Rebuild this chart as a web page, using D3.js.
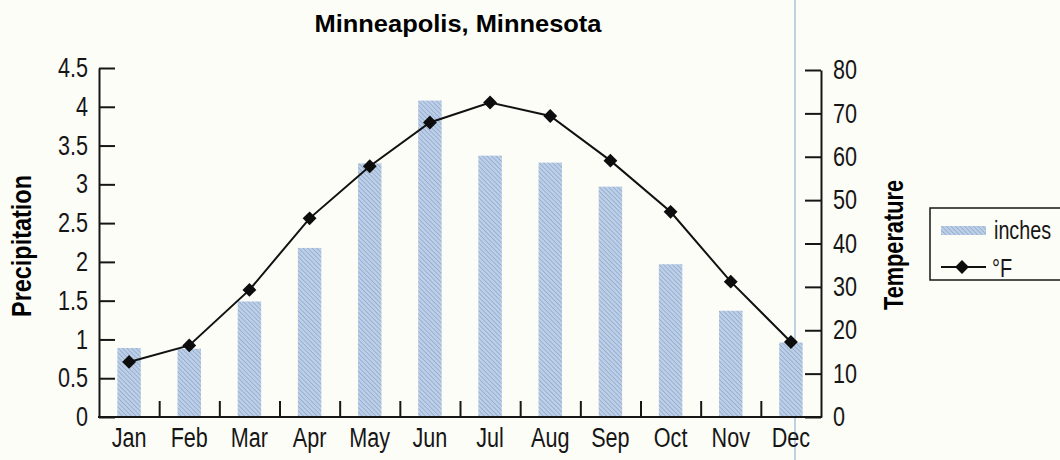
<!DOCTYPE html>
<html>
<head>
<meta charset="utf-8">
<script src="https://cdn.jsdelivr.net/npm/d3@7"></script>
<style>
  body { margin: 0; background: #fdfdf8; }
  svg { display: block; font-family: "Liberation Sans", Arial, sans-serif; }
  .axis path, .axis line { stroke: #161616; stroke-width: 2; }
  .axis text { fill: #161616; }
</style>
</head>
<body>
<div id="chart"></div>
<script>
// Minneapolis monthly normals
const months = ['Jan','Feb','Mar','Apr','May','Jun','Jul','Aug','Sep','Oct','Nov','Dec'];
const precipInches = [0.89, 0.88, 1.49, 2.18, 3.27, 4.08, 3.37, 3.28, 2.97, 1.97, 1.37, 0.96];
const tempF = [12.7, 16.5, 29.3, 45.8, 57.8, 67.9, 72.5, 69.4, 59.1, 47.3, 31.2, 17.3];
const precipTicks = [0, 0.5, 1, 1.5, 2, 2.5, 3, 3.5, 4, 4.5];
const tempTicks = [0, 10, 20, 30, 40, 50, 60, 70, 80];
const legendLabels = ['inches', '°F'];

const width = 1060, height = 460;
const plotLeft = 99, plotRight = 821, plotTop = 68, plotBottom = 417;
const narrow = 0.8; // no condensed face installed, squeeze Liberation Sans instead

const svg = d3.select('#chart').append('svg')
  .attr('width', width)
  .attr('height', height);

// hatched light blue fill for the bars
const defs = svg.append('defs');
const pat = defs.append('pattern')
  .attr('id', 'hatch')
  .attr('patternUnits', 'userSpaceOnUse')
  .attr('width', 3.2).attr('height', 3.2)
  .attr('patternTransform', 'rotate(-45)');
pat.append('rect').attr('width', 3.2).attr('height', 3.2).attr('fill', '#bccfe9');
pat.append('line')
  .attr('x1', 0).attr('y1', 0).attr('x2', 0).attr('y2', 3.2)
  .attr('stroke', '#889fbf').attr('stroke-width', 1.2);

const x = d3.scaleBand()
  .domain(months)
  .range([plotLeft, plotRight])
  .paddingInner(0.61)
  .paddingOuter(0.305);

const yP = d3.scaleLinear().domain([0, 4.5]).range([plotBottom, plotTop]);
const yT = d3.scaleLinear().domain([0, 80]).range([plotBottom, plotTop + 2]);

// scan line artefact near the right edge of the plot
svg.append('line')
  .attr('x1', 795).attr('x2', 795).attr('y1', 0).attr('y2', height)
  .attr('stroke', '#a9c3de').attr('stroke-width', 1.5);

// bars
svg.append('g').selectAll('rect')
  .data(months)
  .join('rect')
  .attr('x', d => x(d))
  .attr('y', (d, i) => yP(precipInches[i]))
  .attr('width', x.bandwidth())
  .attr('height', (d, i) => plotBottom - yP(precipInches[i]))
  .attr('fill', 'url(#hatch)');

// temperature line + diamond markers
const cx = d => x(d) + x.bandwidth() / 2;
const line = d3.line()
  .x((d, i) => cx(months[i]))
  .y(d => yT(d));

svg.append('path')
  .datum(tempF)
  .attr('d', line)
  .attr('fill', 'none')
  .attr('stroke', '#111')
  .attr('stroke-width', 2);

const diamond = d3.symbol().type(d3.symbolSquare).size(96);
svg.append('g').selectAll('path')
  .data(tempF)
  .join('path')
  .attr('d', diamond)
  .attr('transform', (d, i) => `translate(${cx(months[i])},${yT(d)}) rotate(45)`)
  .attr('fill', '#0d0d0d');

// left axis
svg.append('g')
  .attr('class', 'axis')
  .attr('transform', `translate(${plotLeft},0)`)
  .call(d3.axisLeft(yP).tickValues(precipTicks).tickFormat(d3.format('')).tickSizeInner(-16).tickSizeOuter(0).tickPadding(11))
  .call(g => g.selectAll('text').attr('font-size', 27));

// right axis
svg.append('g')
  .attr('class', 'axis')
  .attr('transform', `translate(${plotRight},0)`)
  .call(d3.axisRight(yT).tickValues(tempTicks).tickSizeInner(-16).tickSizeOuter(0).tickPadding(12))
  .call(g => g.selectAll('text').attr('font-size', 27));

// bottom axis: labels under the bars, ticks between months
svg.append('g')
  .attr('class', 'axis')
  .attr('transform', `translate(0,${plotBottom})`)
  .call(d3.axisBottom(x).tickSize(0).tickPadding(11))
  .call(g => g.select('.domain').attr('d', `M${plotLeft - 1},0H${plotRight + 1}`))
  .call(g => g.selectAll('text').attr('font-size', 27));

const xb = d3.scaleLinear().domain([0, months.length]).range([plotLeft, plotRight]);
svg.append('g')
  .attr('class', 'axis')
  .attr('transform', `translate(0,${plotBottom})`)
  .call(d3.axisBottom(xb).tickValues(d3.range(1, months.length)).tickFormat('').tickSizeInner(-16).tickSizeOuter(0))
  .call(g => g.select('.domain').remove());

// titles
svg.append('text')
  .attr('x', 458).attr('y', 32)
  .attr('text-anchor', 'middle')
  .attr('font-size', 24).attr('font-weight', 'bold')
  .attr('data-len', 287)
  .text('Minneapolis, Minnesota');

svg.append('text')
  .attr('transform', 'translate(31,246) rotate(-90)')
  .attr('text-anchor', 'middle')
  .attr('font-size', 28).attr('font-weight', 'bold')
  .attr('data-len', 142)
  .text('Precipitation');

svg.append('text')
  .attr('transform', 'translate(903,245) rotate(-90)')
  .attr('text-anchor', 'middle')
  .attr('font-size', 28).attr('font-weight', 'bold')
  .attr('data-len', 130)
  .text('Temperature');

// legend (box runs off the right edge like the original)
const lg = svg.append('g');
lg.append('rect')
  .attr('x', 930).attr('y', 208).attr('width', 160).attr('height', 72)
  .attr('fill', 'none').attr('stroke', '#161616').attr('stroke-width', 1.5);
lg.append('rect')
  .attr('x', 941).attr('y', 226).attr('width', 45).attr('height', 9)
  .attr('fill', 'url(#hatch)');
lg.append('line')
  .attr('x1', 941).attr('x2', 986).attr('y1', 267).attr('y2', 267)
  .attr('stroke', '#111').attr('stroke-width', 2);
lg.append('path')
  .attr('d', diamond)
  .attr('transform', 'translate(962,267) rotate(45)')
  .attr('fill', '#0d0d0d');
lg.selectAll('text.leg')
  .data(legendLabels)
  .join('text')
  .attr('class', 'leg')
  .attr('x', (d, i) => i === 0 ? 994 : 992)
  .attr('y', (d, i) => i === 0 ? 239 : 277)
  .attr('font-size', 25)
  .attr('fill', '#161616')
  .attr('data-len', (d, i) => i === 0 ? 57 : null)
  .text(d => d);

// condense every label to mimic the narrow typeface of the original
svg.selectAll('text').each(function () {
  const el = d3.select(this);
  const len = el.attr('data-len') ? +el.attr('data-len') : this.getComputedTextLength() * narrow;
  el.attr('textLength', len).attr('lengthAdjust', 'spacingAndGlyphs');
});
</script>
</body>
</html>
